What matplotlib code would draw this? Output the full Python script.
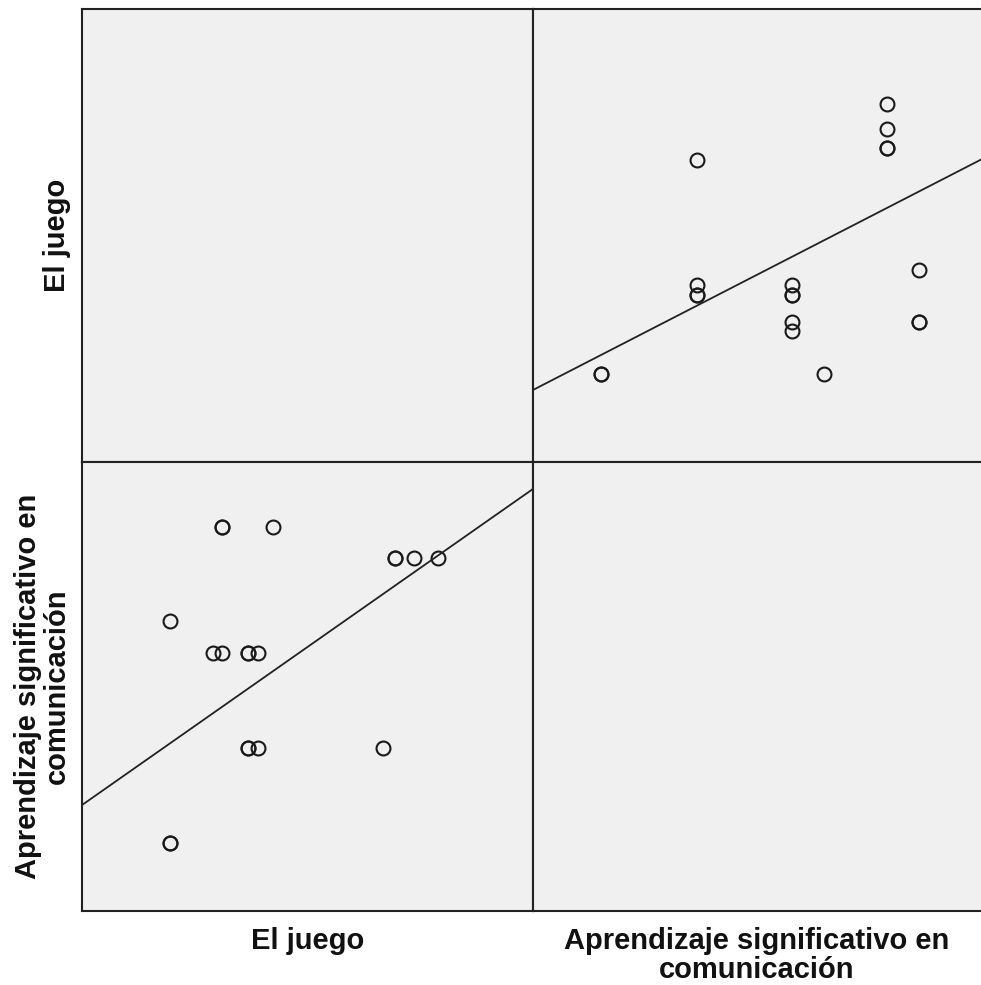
"""
Scatterplot matrix: El juego vs Aprendizaje significativo en comunicacion
"""

import matplotlib
matplotlib.use("Agg")
import matplotlib.pyplot as plt
import numpy as np

######################################################################
############################### Data #################################
# positions are on a 0-100 scale of each variable's axis range
# (SPSS matrix has no ticks, so values are read relative to the panel)
var_names = ["El juego", "Aprendizaje significativo en\ncomunicación"]

juego = [31.0, 31.0, 42.3, 69.3, 69.3, 73.6, 79.0, 19.5, 29.0, 31.0,
         36.8, 36.8, 39.0, 36.8, 36.8, 39.0, 66.7, 19.5, 19.5]
aprend = [85.5, 85.5, 85.5, 78.6, 78.6, 78.6, 78.6, 64.5, 57.4, 57.4,
          57.4, 57.4, 57.4, 36.4, 36.4, 36.4, 36.4, 15.1, 15.1]

# fit lines as drawn in the chart: (intercept, slope)
fit_aprend_on_juego = (23.6, 0.704)
fit_juego_on_aprend = (15.9, 0.512)

######################################################################
############################## Layout ################################
W, H = 981, 985
fig = plt.figure(figsize=(W / 100, H / 100), dpi=100)
fig.patch.set_facecolor("white")

x0, xm, x1 = 82, 533, 984      # pixel columns
y0, ym, y1 = 74, 523, 976      # pixel rows (from bottom)


def px_axes(l, b, r, t):
    return fig.add_axes([l / W, b / H, (r - l) / W, (t - b) / H])


ax_ul = px_axes(x0, ym, xm, y1)
ax_ur = px_axes(xm, ym, x1, y1)
ax_ll = px_axes(x0, y0, xm, ym)
ax_lr = px_axes(xm, y0, x1, ym)

for ax in (ax_ul, ax_ur, ax_ll, ax_lr):
    ax.set_facecolor("#f0f0f0")
    ax.set_xlim(0, 100)
    ax.set_ylim(0, 100)
    ax.set_xticks([])
    ax.set_yticks([])
    for sp in ax.spines.values():
        sp.set_color("#222222")
        sp.set_linewidth(1.5)

marker_kw = dict(linestyle="none", marker="o", ms=10, mfc="none",
                 mec="#1a1a1a", mew=1.5)
xs = np.array([0, 100])

# lower left: x = El juego, y = Aprendizaje
ax_ll.plot(juego, aprend, **marker_kw)
ax_ll.plot(xs, fit_aprend_on_juego[0] + fit_aprend_on_juego[1] * xs,
           color="#222222", lw=1.3)

# upper right: x = Aprendizaje, y = El juego
ax_ur.plot(aprend, juego, **marker_kw)
ax_ur.plot(xs, fit_juego_on_aprend[0] + fit_juego_on_aprend[1] * xs,
           color="#222222", lw=1.3)

######################################################################
############################## Labels ################################
font_kw = dict(family=["Liberation Sans", "DejaVu Sans"], weight="bold",
               fontsize=21, linespacing=1.06, multialignment="center",
               color="#111111")

fig.text((x0 + xm) / 2 / W, 58 / H, var_names[0], ha="center", va="top", **font_kw)
fig.text((xm + 980) / 2 / W, 58 / H, var_names[1], ha="center", va="top", **font_kw)

fig.text(71 / W, (ym + y1) / 2 / H, var_names[0], rotation=90,
         ha="right", va="center", **font_kw)
fig.text(71 / W, (y0 + ym) / 2 / H, var_names[1], rotation=90,
         ha="right", va="center", **font_kw)

fig.savefig("out.png", dpi=100)
